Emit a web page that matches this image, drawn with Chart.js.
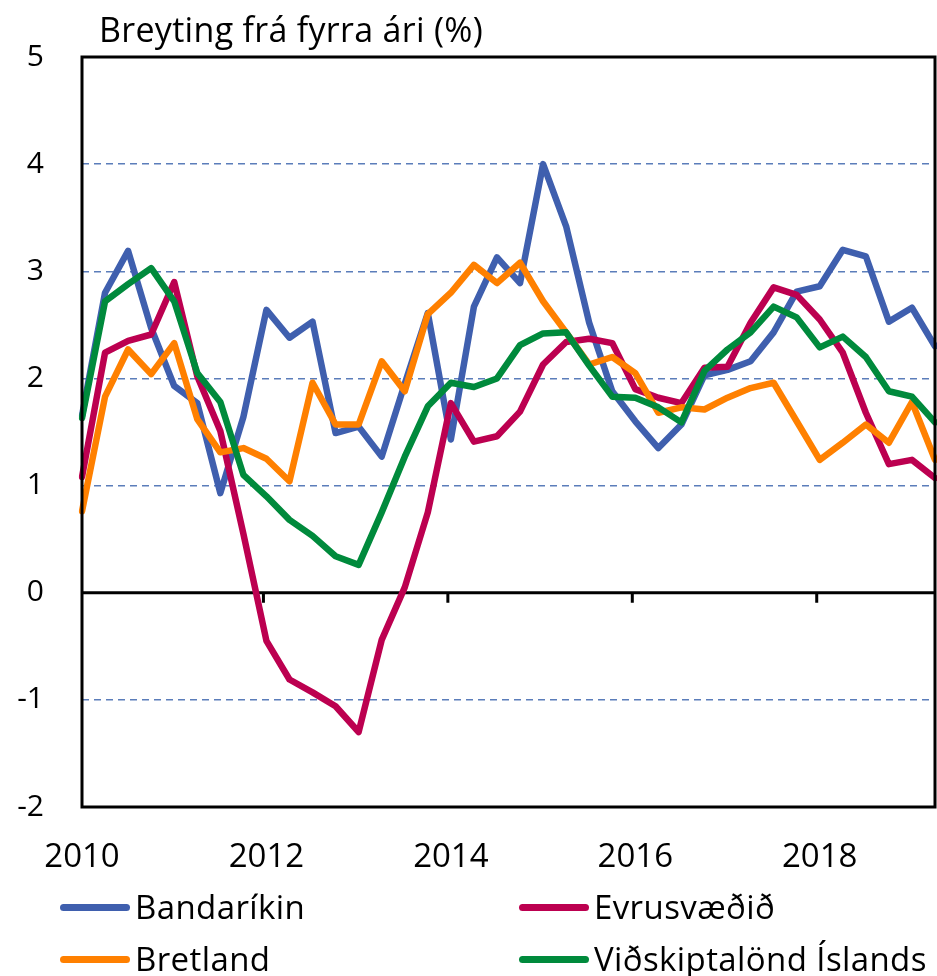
<!DOCTYPE html>
<html>
<head>
<meta charset="utf-8">
<script src="https://cdn.jsdelivr.net/npm/chart.js@4.4.0/dist/chart.umd.min.js"></script>
<style>
  html, body { margin: 0; padding: 0; background: #fff; }
  #wrap { position: relative; width: 937px; height: 976px; font-family: 'Open Sans', Lato, sans-serif; color: #000; overflow: hidden; }
  #chart { position: absolute; left: 0; top: 0; }
  #title { position: absolute; left: 99px; top: 9px; font-size: 34px; line-height: 1.2; letter-spacing: 0.3px; white-space: nowrap; }
  .leg { position: absolute; display: flex; align-items: center; font-size: 33px; line-height: 40px; height: 40px; letter-spacing: 0.4px; white-space: nowrap; }
  .leg .sw { display: inline-block; width: 70px; height: 7px; border-radius: 4px; margin-right: 5px; }
</style>
</head>
<body>
<div id="wrap">
  <canvas id="chart" width="937" height="976"></canvas>
  <div id="title">Breyting frá fyrra ári (%)</div>
  <div id="legend"></div>
</div>
<script>
// quarterly, 2010Q1 - 2019Q2
const quarters = [
  '2010Q1','2010Q2','2010Q3','2010Q4','2011Q1','2011Q2','2011Q3','2011Q4',
  '2012Q1','2012Q2','2012Q3','2012Q4','2013Q1','2013Q2','2013Q3','2013Q4',
  '2014Q1','2014Q2','2014Q3','2014Q4','2015Q1','2015Q2','2015Q3','2015Q4',
  '2016Q1','2016Q2','2016Q3','2016Q4','2017Q1','2017Q2','2017Q3','2017Q4',
  '2018Q1','2018Q2','2018Q3','2018Q4','2019Q1','2019Q2'
];
const yearTicks = ['2010', '2012', '2014', '2016', '2018'];
const yTicks = [-2, -1, 0, 1, 2, 3, 4, 5];

const seriesNames = ['Bandaríkin', 'Evrusvæðið', 'Bretland', 'Viðskiptalönd Íslands'];
const seriesColors = ['#3F5FAE', '#BC0050', '#FF8000', '#008A3C'];

const bandarikin = [1.65, 2.8, 3.19, 2.47, 1.93, 1.77, 0.93, 1.64, 2.64, 2.38, 2.53, 1.49, 1.55, 1.27, 1.95, 2.61, 1.43, 2.67, 3.13, 2.89, 4.0, 3.42, 2.52, 1.88, 1.6, 1.35, 1.57, 2.03, 2.08, 2.16, 2.43, 2.81, 2.86, 3.2, 3.14, 2.53, 2.66, 2.3];
const evrusvaedid = [1.08, 2.24, 2.35, 2.41, 2.9, 2.02, 1.51, 0.55, -0.45, -0.81, -0.93, -1.06, -1.3, -0.44, 0.05, 0.75, 1.77, 1.41, 1.46, 1.69, 2.13, 2.34, 2.37, 2.33, 1.9, 1.82, 1.77, 2.1, 2.11, 2.52, 2.85, 2.78, 2.55, 2.24, 1.68, 1.2, 1.24, 1.07];
const bretland = [0.76, 1.83, 2.27, 2.04, 2.33, 1.62, 1.31, 1.35, 1.25, 1.04, 1.96, 1.57, 1.57, 2.16, 1.88, 2.6, 2.8, 3.06, 2.89, 3.08, 2.72, 2.43, 2.13, 2.2, 2.05, 1.68, 1.73, 1.71, 1.82, 1.91, 1.96, 1.6, 1.24, 1.4, 1.57, 1.4, 1.78, 1.24];
const vidskiptalond = [1.63, 2.72, 2.88, 3.03, 2.72, 2.05, 1.78, 1.1, 0.9, 0.68, 0.53, 0.34, 0.26, 0.75, 1.27, 1.74, 1.96, 1.92, 2.0, 2.31, 2.42, 2.43, 2.12, 1.83, 1.82, 1.73, 1.59, 2.07, 2.27, 2.43, 2.67, 2.57, 2.29, 2.39, 2.2, 1.88, 1.83, 1.59];

const seriesData = [bandarikin, evrusvaedid, bretland, vidskiptalond];

function yearLabel(idx) {
  const q = quarters[idx];
  if (!q || !q.endsWith('Q1')) return '';
  const y = q.slice(0, 4);
  return yearTicks.includes(y) ? y : '';
}

// frame, zero line and the little tick marks sitting on the zero line
const frame = {
  id: 'frame',
  beforeDatasetsDraw(chart) {
    const { ctx, chartArea: a, scales: { x, y } } = chart;
    const y0 = y.getPixelForValue(0);
    ctx.save();
    ctx.strokeStyle = '#000';
    ctx.lineWidth = 3;
    ctx.beginPath();
    ctx.moveTo(a.left, y0);
    ctx.lineTo(a.right, y0);
    quarters.forEach((q, i) => {
      if (i > 0 && yearLabel(i)) {
        const px = x.getPixelForValue(i) - 3;
        ctx.moveTo(px, y0);
        ctx.lineTo(px, y0 + 10);
      }
    });
    ctx.stroke();
    ctx.restore();
  },
  afterDatasetsDraw(chart) {
    const { ctx, chartArea: a } = chart;
    ctx.save();
    ctx.strokeStyle = '#000';
    ctx.lineWidth = 3;
    ctx.strokeRect(a.left, a.top, a.right - a.left, a.bottom - a.top);
    ctx.restore();
  }
};

const font = '"Open Sans", Lato, sans-serif';

new Chart(document.getElementById('chart'), {
  type: 'line',
  data: {
    labels: quarters,
    datasets: seriesData.map((d, i) => ({
      label: seriesNames[i],
      data: d,
      borderColor: seriesColors[i],
      backgroundColor: seriesColors[i],
      borderWidth: 6.5,
      borderJoinStyle: 'round',
      borderCapStyle: 'round',
      pointRadius: 0,
      tension: 0,
      order: seriesData.length - i
    }))
  },
  options: {
    responsive: false,
    animation: false,
    layout: { padding: { top: 57, right: 2, bottom: 69, left: 0 } },
    plugins: { legend: { display: false }, tooltip: { enabled: false } },
    scales: {
      x: {
        type: 'category',
        offset: false,
        grid: { display: false, drawTicks: false },
        border: { display: false },
        ticks: {
          autoSkip: false,
          maxRotation: 0,
          padding: 31,
          color: '#000',
          font: { family: font, size: 33 },
          callback: (v, i) => yearLabel(i)
        },
        afterFit: s => { s.height = 100; s.paddingRight = 0; s.paddingLeft = 0; }
      },
      y: {
        min: -2,
        max: 5,
        afterBuildTicks: s => { s.ticks = yTicks.map(v => ({ value: v })); },
        grid: {
          drawTicks: false,
          lineWidth: 1.5,
          color: c => ([0, 5, -2].includes(c.tick.value) ? 'rgba(0,0,0,0)' : '#5B7DBA')
        },
        border: { display: false, dash: [7, 5] },
        ticks: {
          padding: 38,
          color: '#000',
          font: { family: font, size: 30 }
        },
        afterFit: s => { s.width = 82; }
      }
    }
  },
  plugins: [frame]
});

// legend in two columns like the original
const legPos = [
  { left: 60, top: 887 }, { left: 519, top: 887 },
  { left: 60, top: 939 }, { left: 519, top: 939 }
];
const legend = document.getElementById('legend');
seriesNames.forEach((name, k) => {
  const el = document.createElement('div');
  el.className = 'leg';
  el.style.left = legPos[k].left + 'px';
  el.style.top = legPos[k].top + 'px';
  el.innerHTML = `<span class="sw" style="background:${seriesColors[k]}"></span>${name}`;
  legend.appendChild(el);
});
</script>
</body>
</html>
